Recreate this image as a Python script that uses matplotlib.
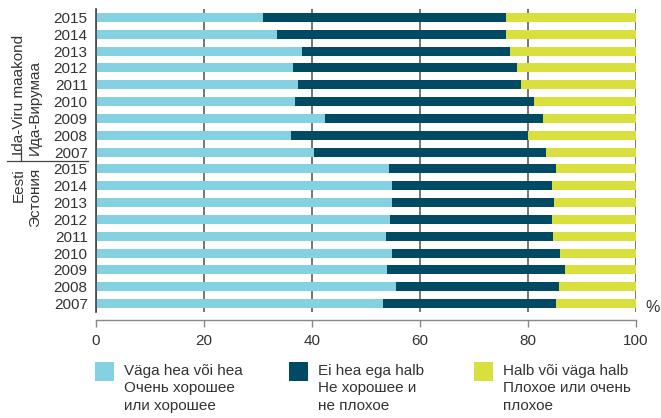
import numpy as np
import matplotlib
matplotlib.use("Agg")
import matplotlib.pyplot as plt
from matplotlib.patches import Rectangle
import matplotlib.transforms as mtransforms

plt.rcParams['font.family'] = ['Liberation Sans', 'DejaVu Sans']

# rows from top to bottom: Ida-Viru maakond 2015..2007, then Eesti 2015..2007
years = ['2015', '2014', '2013', '2012', '2011', '2010', '2009', '2008', '2007']
year_labels = years + years

# share of "very good or good" (%)
good = [30.9, 33.5, 38.2, 36.5, 37.4, 36.9, 42.4, 36.1, 40.4,
        54.3, 54.8, 54.8, 54.5, 53.7, 54.8, 53.9, 55.6, 53.2]
# share of "neither good nor bad" (%)
neutral = [45.1, 42.5, 38.5, 41.5, 41.3, 44.3, 40.4, 43.9, 43.0,
           30.9, 29.7, 30.1, 30.0, 31.0, 31.2, 33.0, 30.2, 32.0]
# share of "bad or very bad" (%)
bad = [24.0, 24.0, 23.3, 22.0, 21.3, 18.8, 17.2, 20.0, 16.6,
       14.8, 15.5, 15.1, 15.5, 15.3, 14.0, 13.1, 14.2, 14.8]

legend_labels = ['Väga hea või hea\nОчень хорошее\nили хорошее',
                 'Ei hea ega halb\nНе хорошее и\nне плохое',
                 'Halb või väga halb\nПлохое или очень\nплохое']
colors = ['#84d1e1', '#004a63', '#d9e03d']
text_color = '#333333'

W, H = 661, 418
fig = plt.figure(figsize=(W / 100, H / 100), dpi=100)
ax = fig.add_axes([96 / W, 1 - 312 / H, 540 / W, 303 / H])

pos = np.arange(len(good))
left = np.zeros(len(good))
for vals, c in zip([good, neutral, bad], colors):
    ax.barh(pos, vals, left=left, height=0.54, color=c, zorder=2)
    left += np.array(vals)

ax.set_xlim(0, 100)
ax.set_ylim(len(good) - 0.5, -0.5)
ax.set_xticks([0, 20, 40, 60, 80, 100])
ax.set_yticks(pos)
ax.set_yticklabels(year_labels)

ax.set_axisbelow(True)
ax.xaxis.grid(True, color='#505050', lw=1.1)

for s in ['top', 'right']:
    ax.spines[s].set_visible(False)
ax.spines['left'].set_color('#444444')
ax.spines['left'].set_linewidth(1.2)
ax.spines['left'].set_zorder(3)
ax.spines['bottom'].set_position(('outward', 6))
ax.spines['bottom'].set_color('#888888')
ax.spines['bottom'].set_linewidth(1.0)

ax.tick_params(axis='y', length=0, pad=6, labelsize=11, labelcolor=text_color)
ax.tick_params(axis='x', direction='out', length=5, width=1, color='#888888',
               pad=5, labelsize=11, labelcolor=text_color)

# group labels left of the year labels
trans = mtransforms.blended_transform_factory(fig.transFigure, ax.transData)
ax.text(19 / W, 8.15, 'Ida-Viru maakond', rotation=90, ha='center', va='bottom',
        fontsize=11, color=text_color, transform=trans, clip_on=False)
ax.text(35 / W, 8.15, 'Ида-Вирумаа', rotation=90, ha='center', va='bottom',
        fontsize=11, color=text_color, transform=trans, clip_on=False)
ax.text(19 / W, 8.95, 'Eesti', rotation=90, ha='center', va='top',
        fontsize=11, color=text_color, transform=trans, clip_on=False)
ax.text(35 / W, 8.95, 'Эстония', rotation=90, ha='center', va='top',
        fontsize=11, color=text_color, transform=trans, clip_on=False)
ax.plot([7 / W, 88 / W], [8.55, 8.55], color='#444444', lw=0.9,
        transform=trans, clip_on=False)
ax.plot([21 / W, 21 / W], [7.85, 8.55], color='#444444', lw=0.9,
        transform=trans, clip_on=False)

fig.text(653 / W, 1 - 307 / H, '%', ha='center', va='center',
         fontsize=11.5, color=text_color)

# legend
box_x = [95, 289, 474]
for bx, c, lab in zip(box_x, colors, legend_labels):
    fig.patches.append(Rectangle((bx / W, 1 - 381 / H), 19 / W, 19 / H,
                                 facecolor=c, edgecolor='none',
                                 transform=fig.transFigure))
    fig.text((bx + 29) / W, 1 - 364 / H, lab, ha='left', va='top',
             fontsize=11, color=text_color, linespacing=1.3)

fig.savefig('out.png', dpi=100)
